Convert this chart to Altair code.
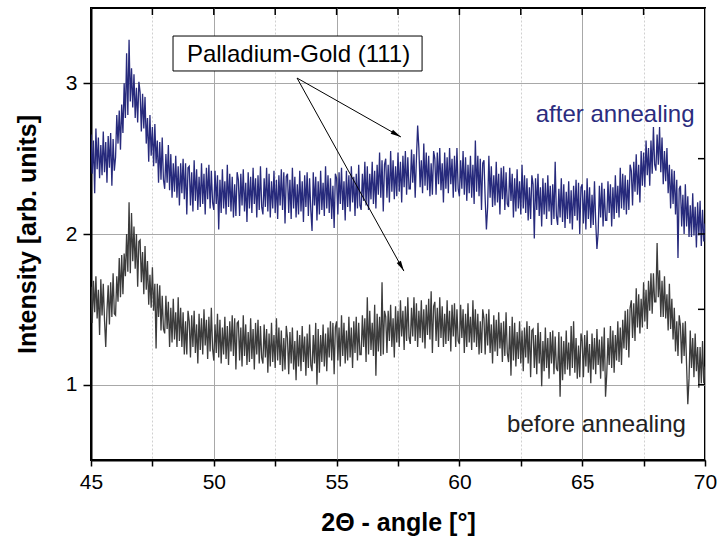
import altair as alt
import pandas as pd

# ---------------- data ----------------
x_start = 45.0
x_step = 0.05

after_annealing = [
    2.66,2.40,2.62,2.27,2.70,2.43,2.64,2.37,2.59,2.39,2.68,2.41,2.61,2.34,2.65,2.44,2.67,2.32,2.63,2.42,
    2.51,2.79,2.60,2.82,2.56,2.86,2.67,3.00,2.77,3.20,2.79,3.29,2.88,3.10,2.84,3.06,2.77,2.97,2.74,3.01,
    2.94,2.68,2.93,2.70,2.91,2.60,2.77,2.48,2.79,2.52,2.71,2.45,2.73,2.47,2.62,2.34,2.61,2.36,2.64,2.36,
    2.30,2.53,2.34,2.59,2.29,2.53,2.24,2.47,2.28,2.52,2.24,2.45,2.19,2.47,2.27,2.50,2.23,2.47,2.13,2.44,
    2.45,2.19,2.41,2.15,2.49,2.22,2.43,2.16,2.38,2.18,2.47,2.20,2.40,2.13,2.44,2.23,2.46,2.17,2.42,2.21,
    2.16,2.42,2.20,2.39,2.03,2.36,2.14,2.43,2.17,2.35,2.13,2.46,2.18,2.40,2.15,2.38,2.11,2.33,2.12,2.41,
    2.36,2.12,2.40,2.19,2.43,2.15,2.34,2.08,2.41,2.17,2.38,2.14,2.44,2.20,2.37,2.11,2.39,2.16,2.45,2.18,
    2.13,2.37,2.18,2.44,2.15,2.40,2.11,2.35,2.17,2.42,2.14,2.36,2.10,2.39,2.19,2.43,2.16,2.41,2.07,2.38,
    2.40,2.14,2.36,2.10,2.44,2.17,2.38,2.11,2.33,2.13,2.42,2.15,2.35,2.08,2.39,2.18,2.41,2.12,2.37,2.16,
    2.02,2.41,2.19,2.38,2.09,2.35,2.13,2.42,2.16,2.34,2.12,2.45,2.17,2.39,2.14,2.37,2.10,2.32,2.04,2.40,
    2.37,2.13,2.41,2.20,2.44,2.16,2.35,2.09,2.42,2.18,2.39,2.15,2.45,2.21,2.38,2.12,2.40,2.17,2.46,2.19,
    2.16,2.40,2.22,2.48,2.19,2.45,2.16,2.40,2.23,2.48,2.20,2.42,2.17,2.46,2.26,2.54,2.24,2.49,2.15,2.46,
    2.50,2.24,2.46,2.21,2.55,2.28,2.49,2.23,2.45,2.25,2.54,2.28,2.48,2.21,2.52,2.31,2.55,2.26,2.51,2.30,
    2.30,2.56,2.34,2.53,2.24,2.50,2.72,2.57,2.31,2.49,2.27,2.60,2.32,2.54,2.29,2.52,2.25,2.47,2.26,2.55,
    2.50,2.26,2.54,2.33,2.57,2.29,2.47,2.21,2.54,2.30,2.51,2.27,2.57,2.33,2.50,2.24,2.52,2.28,2.57,2.30,
    2.25,2.49,2.30,2.55,2.26,2.51,2.22,2.46,2.27,2.52,2.24,2.46,2.20,2.62,2.28,2.52,2.25,2.50,2.16,2.47,
    2.49,2.23,2.03,2.18,2.52,2.24,2.45,2.18,2.39,2.19,2.48,2.21,2.40,2.13,2.44,2.23,2.45,2.16,2.41,2.20,
    2.18,2.44,2.22,2.40,2.11,2.37,2.15,2.43,2.17,2.35,2.13,2.46,2.17,2.39,2.14,2.37,2.09,2.31,2.10,2.39,
    2.33,1.97,2.37,2.16,2.40,2.12,2.31,2.05,2.37,2.13,2.34,2.10,2.39,2.15,2.32,2.06,2.33,2.10,2.48,2.12,
    2.06,2.30,2.11,2.37,2.08,2.33,2.04,2.28,2.10,2.35,2.07,2.29,2.03,2.32,2.12,2.36,2.09,2.34,2.00,2.31,
    2.33,2.07,2.29,2.03,2.37,2.10,2.31,2.04,2.26,2.06,2.35,2.08,1.90,2.01,2.32,2.11,2.34,2.05,2.30,2.09,
    2.09,2.35,2.14,2.33,2.05,2.31,2.10,2.39,2.14,2.32,2.11,2.44,2.17,2.40,2.16,2.39,2.13,2.36,2.16,2.46,
    2.42,2.19,2.48,2.28,2.53,2.26,2.46,2.21,2.55,2.32,2.54,2.31,2.62,2.39,2.57,2.32,2.62,2.40,2.71,2.46,
    2.42,2.66,2.46,2.71,2.41,2.64,2.33,2.55,2.35,2.57,2.27,2.46,2.17,2.43,2.20,2.42,2.13,2.36,1.84,2.30,
    2.32,2.05,2.26,2.00,2.33,2.05,2.25,1.98,2.19,1.98,2.27,1.99,2.18,1.91,2.21,1.99,2.22,1.92,2.16,1.95,2.07,
]

before_annealing = [
    1.65,1.41,1.69,1.48,1.72,1.44,1.63,1.33,1.70,1.46,1.67,1.43,1.25,1.49,1.66,1.40,1.68,1.45,1.74,1.47,
    1.46,1.72,1.55,1.84,1.58,1.86,1.60,1.87,1.72,2.00,1.75,2.21,1.74,2.14,1.82,2.05,1.77,2.00,1.65,1.95,
    1.96,1.68,1.88,1.60,1.92,1.63,1.82,1.53,1.73,1.51,1.78,1.49,1.67,1.24,1.67,1.45,1.66,1.36,1.59,1.37,
    1.34,1.59,1.37,1.55,1.25,1.51,1.28,1.57,1.30,1.48,1.25,1.58,1.29,1.51,1.25,1.48,1.20,1.42,1.20,1.49,
    1.42,1.18,1.46,1.25,1.49,1.21,1.40,1.14,1.47,1.23,1.44,1.20,1.50,1.26,1.43,1.17,1.45,1.22,1.51,1.24,
    1.16,1.40,1.21,1.47,1.18,1.43,1.14,1.38,1.20,1.45,1.17,1.39,1.13,1.42,1.22,1.46,1.19,1.44,1.10,1.41,
    1.42,1.16,1.38,1.12,1.46,1.19,1.40,1.13,1.35,1.15,1.44,1.17,1.37,1.10,1.41,1.20,1.43,1.14,1.39,1.18,
    1.14,1.40,1.18,1.37,1.08,1.34,1.12,1.41,1.15,1.33,1.11,1.44,1.16,1.38,1.13,1.36,1.09,1.31,1.10,1.39,
    1.31,1.07,1.35,1.14,1.38,1.10,1.29,1.03,1.36,1.12,1.33,1.09,1.39,1.15,1.32,1.06,1.34,1.11,1.40,1.13,
    1.09,1.33,1.14,1.41,1.00,1.37,1.08,1.33,1.15,1.40,1.12,1.34,1.09,1.38,1.18,1.42,1.16,1.41,1.07,1.38,
    1.42,1.16,1.38,1.12,1.46,1.19,1.41,1.14,1.36,1.16,1.45,1.18,1.38,1.11,1.42,1.21,1.45,1.16,1.41,1.20,
    1.20,1.46,1.25,1.44,1.15,1.58,1.20,1.49,1.23,1.41,1.19,1.53,1.06,1.47,1.22,1.45,1.19,1.68,1.20,1.49,
    1.45,1.21,1.49,1.29,1.53,1.25,1.44,1.18,1.52,1.28,1.49,1.25,1.56,1.32,1.49,1.23,1.52,1.29,1.58,1.31,
    1.27,1.51,1.32,1.58,1.29,1.54,1.25,1.49,1.31,1.56,1.28,1.50,1.24,1.53,1.33,1.57,1.30,1.62,1.21,1.52,
    1.55,1.29,1.51,1.25,1.58,1.31,1.52,1.25,1.47,1.27,1.56,1.29,1.49,1.22,1.53,1.32,1.54,1.25,1.50,1.29,
    1.27,1.53,1.31,1.50,1.21,1.47,1.25,1.54,1.28,1.45,1.23,1.56,1.28,1.50,1.25,1.47,1.20,1.42,1.21,1.50,
    1.44,1.20,1.47,1.26,1.50,1.21,1.40,1.14,1.46,1.22,1.43,1.19,1.48,1.24,1.41,1.15,1.42,1.19,1.48,1.21,
    1.15,1.39,1.06,1.45,1.16,1.41,1.12,1.35,1.17,1.42,1.14,1.36,1.09,1.38,1.18,1.42,1.14,1.39,1.05,1.36,
    1.37,1.11,1.33,1.07,1.41,1.14,1.35,0.99,1.29,1.09,1.38,1.11,1.31,1.04,1.35,1.14,1.36,1.07,1.32,1.11,
    1.09,1.35,0.92,1.32,1.03,1.29,1.07,1.36,1.10,1.28,1.06,1.39,1.11,1.42,1.08,1.31,1.04,1.26,1.05,1.34,
    1.29,1.05,1.33,1.12,1.36,1.08,1.27,1.01,1.34,1.10,1.31,1.07,1.37,1.13,1.30,1.04,1.32,1.09,1.38,0.92,
    1.07,1.31,1.13,1.39,1.11,1.36,1.08,1.33,1.16,1.42,1.15,1.38,1.13,1.43,1.24,1.49,1.23,1.50,1.18,1.51,
    1.56,1.31,1.54,1.29,1.64,1.38,1.60,1.34,1.57,1.38,1.68,1.42,1.63,1.37,1.69,1.49,1.74,1.47,1.74,1.55,
    1.55,1.94,1.58,1.76,1.45,1.69,1.45,1.72,1.44,1.60,1.36,1.67,1.37,1.57,1.30,1.51,1.22,1.42,1.19,1.46,
    1.39,1.14,1.41,1.19,1.42,1.13,0.87,1.04,1.36,1.11,1.31,1.05,1.34,1.09,1.25,0.98,1.25,1.01,1.29,1.01,1.12,
]

x_ticks_all = [45, 47.5, 50, 52.5, 55, 57.5, 60, 62.5, 65, 67.5, 70]
y_ticks_all = [1, 1.5, 2, 2.5, 3]

series_names = ["after annealing", "before annealing"]
series_colors = ["#272a7c", "#3c3c3c"]

# annotations (data coordinates)
box_text = "Palladium-Gold (111)"
box_x = [48.34, 58.48]
box_y = [3.082, 3.314]
box_label_pos = [53.45, 3.139]
arrow_start = [53.39, 3.035]
arrow_ends_x = [57.62, 57.74]
arrow_ends_y = [2.644, 1.754]
arrow_rot = [119.6, 151.0]
label_after_pos = [66.34, 2.743]
label_before_pos = [65.58, 0.688]

# ---------------- build ----------------
rows = []
for name, vals in zip(series_names, [after_annealing, before_annealing]):
    for i, v in enumerate(vals):
        rows.append({"angle": round(x_start + x_step * i, 2), "intensity": v, "series": name})
df = pd.DataFrame(rows)

W, H = 614, 452
FONT = "Liberation Sans"

xscale = alt.Scale(domain=[45, 70], nice=False, zero=False)
yscale = alt.Scale(domain=[0.5, 3.5], nice=False, zero=False)

xaxis = alt.Axis(
    values=x_ticks_all,
    format="d",
    labelExpr="datum.value % 5 === 0 ? datum.label : ''",
    labelFlush=False,
    labelOverlap=False,
    grid=True,
    gridColor={"condition": {"test": "datum.value % 5 !== 0", "value": "#d0d0d0"}, "value": "#a8a8a8"},
    gridDash={"condition": {"test": "datum.value % 5 !== 0", "value": [2, 2]}, "value": []},
    gridWidth=1,
    tickSize=6,
    tickColor="black",
    tickWidth=1.5,
    domainColor="black",
    domainWidth=2,
    labelFont=FONT,
    labelFontSize=21,
    labelColor="black",
    labelPadding=5,
    title="2Θ - angle [°]",
    titleFont=FONT,
    titleFontSize=25,
    titleFontWeight="bold",
    titleColor="black",
    titleX=307,
    titleY=62,
    titleBaseline="middle",
    titleAlign="center",
)

yaxis = alt.Axis(
    values=y_ticks_all,
    format="d",
    labelExpr="datum.value % 1 === 0 ? datum.label : ''",
    labelFlush=False,
    labelOverlap=False,
    grid=True,
    gridColor={"condition": {"test": "datum.value % 1 !== 0", "value": "#d0d0d0"}, "value": "#a8a8a8"},
    gridDash={"condition": {"test": "datum.value % 1 !== 0", "value": [2, 2]}, "value": []},
    gridWidth=1,
    tickSize=8,
    tickColor="black",
    tickWidth=1.5,
    domainColor="black",
    domainWidth=2,
    labelFont=FONT,
    labelFontSize=21,
    labelColor="black",
    labelPadding=6,
    title="Intensity [arb. units]",
    titleFont=FONT,
    titleFontSize=25,
    titleFontWeight="bold",
    titleColor="black",
    titleX=-64,
    titleY=226,
    titleAngle=270,
    titleBaseline="middle",
    titleAlign="center",
)

lines = alt.Chart(df).mark_line(strokeWidth=1.3, clip=True).encode(
    x=alt.X("angle:Q", scale=xscale, axis=xaxis),
    y=alt.Y("intensity:Q", scale=yscale, axis=yaxis),
    color=alt.Color("series:N", scale=alt.Scale(domain=series_names, range=series_colors), legend=None),
    detail="series:N",
)

# inward ticks on top and right
top_df = pd.DataFrame({"x": x_ticks_all[1:-1]})
top_ticks = alt.Chart(top_df).mark_rule(color="black", strokeWidth=1.5).encode(
    x=alt.X("x:Q", scale=xscale), y=alt.value(0), y2=alt.value(7)
)
right_df = pd.DataFrame({"y": y_ticks_all})
right_ticks = alt.Chart(right_df).mark_rule(color="black", strokeWidth=1.5).encode(
    y=alt.Y("y:Q", scale=yscale), x=alt.value(W - 7), x2=alt.value(W)
)

box_df = pd.DataFrame({"x": [box_x[0]], "x2": [box_x[1]], "y": [box_y[0]], "y2": [box_y[1]]})
box = alt.Chart(box_df).mark_rect(fill="white", stroke="black", strokeWidth=1).encode(
    x=alt.X("x:Q", scale=xscale), x2="x2:Q", y=alt.Y("y:Q", scale=yscale), y2="y2:Q"
)
box_label = alt.Chart(pd.DataFrame({"x": [box_label_pos[0]], "y": [box_label_pos[1]], "t": [box_text]})).mark_text(
    font=FONT, fontSize=24, color="black", align="center", baseline="alphabetic"
).encode(x=alt.X("x:Q", scale=xscale), y=alt.Y("y:Q", scale=yscale), text="t:N")

arrow_df = pd.DataFrame({
    "x": [arrow_start[0]] * 2, "y": [arrow_start[1]] * 2,
    "x2": arrow_ends_x, "y2": arrow_ends_y, "rot": arrow_rot,
})
arrow_lines = alt.Chart(arrow_df).mark_rule(color="black", strokeWidth=1).encode(
    x=alt.X("x:Q", scale=xscale), y=alt.Y("y:Q", scale=yscale), x2="x2:Q", y2="y2:Q"
)
arrow_heads = alt.Chart(arrow_df).mark_point(
    shape="M0,0L-0.45,2L0.45,2Z", filled=True, color="black", size=110, opacity=1
).encode(
    x=alt.X("x2:Q", scale=xscale), y=alt.Y("y2:Q", scale=yscale), angle=alt.Angle("rot:Q", scale=None)
)

lab_df = pd.DataFrame({
    "x": [label_after_pos[0], label_before_pos[0]],
    "y": [label_after_pos[1], label_before_pos[1]],
    "t": series_names,
})
labels = alt.Chart(lab_df).mark_text(font=FONT, fontSize=24, align="center", baseline="alphabetic").encode(
    x=alt.X("x:Q", scale=xscale), y=alt.Y("y:Q", scale=yscale), text="t:N",
    color=alt.Color("t:N", scale=alt.Scale(domain=series_names, range=["#2b2c7e", "#222222"]), legend=None),
)

chart = alt.layer(
    lines, top_ticks, right_ticks, arrow_lines, arrow_heads, box, box_label, labels
).resolve_scale(color="independent").properties(
    width=W, height=H,
    autosize=alt.AutoSizeParams(type="none"),
    padding={"left": 91, "top": 8, "right": 12, "bottom": 86},
    background="white",
).configure_view(stroke="black", strokeWidth=2)

chart.save("out.html", embed_options={"renderer": "svg", "actions": False})
